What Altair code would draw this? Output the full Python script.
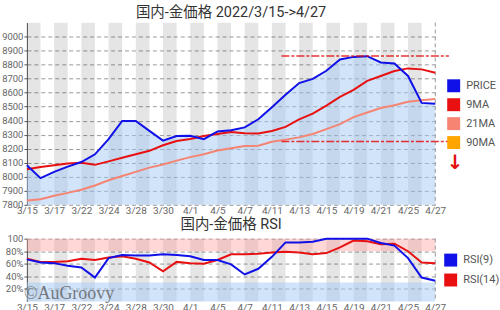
import altair as alt
import pandas as pd

# ---------------- data ----------------
dates = ["3/15", "3/16", "3/17", "3/18", "3/22", "3/23", "3/24", "3/25", "3/28", "3/29",
         "3/30", "3/31", "4/1", "4/4", "4/5", "4/6", "4/7", "4/8", "4/11", "4/12",
         "4/13", "4/14", "4/15", "4/18", "4/19", "4/20", "4/21", "4/22", "4/25", "4/26", "4/27"]

price = [8082, 7990, 8035, 8072, 8105, 8160, 8268, 8398, 8398, 8327,
         8258, 8290, 8292, 8268, 8323, 8332, 8352, 8410, 8496, 8585,
         8668, 8698, 8756, 8836, 8855, 8860, 8815, 8808, 8719, 8527, 8520]

ma9 = [8053, 8070, 8082, 8095, 8100, 8085, 8110, 8135, 8160, 8185,
       8225, 8255, 8270, 8290, 8305, 8320, 8310, 8308, 8327, 8356,
       8410, 8450, 8508, 8569, 8620, 8684, 8719, 8754, 8773, 8766, 8742]

ma21 = [7831, 7840, 7865, 7885, 7908, 7938, 7975, 8005, 8035, 8065,
        8088, 8115, 8140, 8160, 8187, 8203, 8220, 8222, 8250, 8265,
        8281, 8305, 8340, 8375, 8425, 8458, 8490, 8510, 8535, 8545, 8555]

rsi9 = [67, 62, 61, 57, 54, 38, 69, 74, 73, 73,
        75, 74, 72, 66, 66, 59, 43, 52, 71, 94,
        94, 95, 100, 100, 100, 100, 93, 89, 69, 38, 33]

rsi14 = [68, 63, 63, 64, 68, 66, 70, 72, 68, 62,
         48, 63, 61, 60, 66, 75, 75, 76, 78, 79,
         78, 75, 77, 86, 97, 96, 91, 92, 80, 62, 61]

series_names = ["PRICE", "9MA", "21MA", "90MA"]
series_colors = ["#1010e8", "#e81010", "#f58473", "#ffa500"]
rsi_names = ["RSI(9)", "RSI(14)"]
rsi_colors = ["#1010e8", "#e81010"]

level_high = 8862
level_low = 8252
level_from = 18.7
level_to = 31

title_top = "国内-金価格 2022/3/15->4/27"
title_rsi = "国内-金価格 RSI"
watermark = "©AuGroovy"

# ---------------- tables ----------------
n = len(dates)
df = pd.DataFrame({"day": list(range(n)), "date": dates,
                   "PRICE": price, "9MA": ma9, "21MA": ma21,
                   "RSI(9)": rsi9, "RSI(14)": rsi14})
bands_df = pd.DataFrame({"s": list(range(0, n, 2))})
bands_df["e"] = bands_df["s"] + 1
edge_df = pd.DataFrame({"d": [n - 1]})
lvl_df = pd.DataFrame({"v": [level_high, level_low], "s": [level_from] * 2, "e": [level_to] * 2})
leg_df = pd.DataFrame({"series": series_names})
rleg_df = pd.DataFrame({"rsi": rsi_names})

W, H1, H2 = 410, 183, 63
LBL = "Roboto"
TITLE_FONT = "Roboto, 'Noto Sans CJK JP', sans-serif"
label_expr = "[" + ",".join("'%s'" % d for d in dates) + "][datum.value]"

xs = alt.Scale(domain=[0, n - 1], nice=False, zero=False)
x_axis = alt.Axis(values=list(range(0, n, 2)), labelExpr=label_expr, title=None,
                  domain=False, ticks=False, grid=False, labelFlush=False,
                  labelOverlap=False, labelFont=LBL, labelFontSize=10,
                  labelColor="#666", labelPadding=1)


def X(field):
    return alt.X(field, scale=xs, axis=x_axis)


def square_legend(lx, ly, rp):
    return alt.Legend(title=None, orient="none", legendX=lx, legendY=ly,
                      symbolType="square", symbolSize=169, symbolStrokeWidth=0,
                      symbolOpacity=1, labelFont=LBL, labelFontSize=11,
                      labelColor="#555", rowPadding=rp, labelOffset=6)


# ---------------- top chart ----------------
ys = alt.Scale(domain=[7800, 9100], nice=False, zero=False)
y_axis = alt.Axis(values=list(range(7800, 9001, 100)), format="d", title=None, grid=True,
                  gridDash=[4, 3], gridColor="#9a9a9a", gridWidth=1,
                  domainColor="#555", tickColor="#555", tickSize=3,
                  labelFont=LBL, labelFontSize=9.5, labelColor="#666", labelPadding=1)
cs = alt.Scale(domain=series_names, range=series_colors)

legend_top = alt.Chart(leg_df).mark_square(filled=True, clip=True, size=169, opacity=1).encode(
    x=alt.value(-200), y=alt.value(-200),
    color=alt.Color("series:N", scale=cs, legend=square_legend(422, 57, 6)))
bands = alt.Chart(bands_df).mark_rect(color="#000", opacity=0.1, clip=True).encode(
    x=X("s:Q"), x2="e:Q")
area = alt.Chart(df).mark_area(color="#a5c9f5", opacity=0.5).encode(
    x=X("day:Q"), y=alt.Y("PRICE:Q", scale=ys, axis=y_axis), y2=alt.datum(7800))
lines = alt.Chart(df).transform_fold(["21MA", "9MA", "PRICE"], as_=["series", "val"]).mark_line(
    strokeWidth=2).encode(
    x=X("day:Q"), y=alt.Y("val:Q", scale=ys, axis=y_axis),
    color=alt.Color("series:N", scale=cs),
    detail="series:N")
edge = alt.Chart(edge_df).mark_rule(color="#999", strokeDash=[4, 3]).encode(x=X("d:Q"))
levels = alt.Chart(lvl_df).mark_rule(color="#e41010", strokeDash=[8, 2, 3, 2],
                                     strokeWidth=1.5, opacity=0.85, clip=False).encode(
    x=X("s:Q"), x2="e:Q", y=alt.Y("v:Q", scale=ys, axis=y_axis))
arrow = alt.Chart(pd.DataFrame({"t": ["↓"]})).mark_text(
    color="#e41010", font="DejaVu Sans", fontSize=20, fontWeight="bold", clip=False).encode(
    x=alt.value(430), y=alt.value(141), text="t:N")

top = alt.layer(legend_top, bands, area, edge, lines, levels, arrow).properties(
    width=W, height=H1,
    title=alt.TitleParams(title_top, font=TITLE_FONT, fontSize=14.5,
                          fontWeight="normal", color="#333", offset=2, anchor="middle"))

# ---------------- RSI chart ----------------
rs = alt.Scale(domain=[0, 100], nice=False, zero=False)
r_axis = alt.Axis(values=[20, 40, 60, 80, 100], title=None, grid=True,
                  labelExpr="datum.value == 100 ? '100' : datum.value + '%'",
                  gridDash=[4, 3], gridColor="#9a9a9a", gridWidth=1,
                  domainColor="#555", tickColor="#555", tickSize=3,
                  labelFont=LBL, labelFontSize=9.5, labelColor="#666", labelPadding=1)
rcs = alt.Scale(domain=rsi_names, range=rsi_colors)

legend_rsi = alt.Chart(rleg_df).mark_square(filled=True, clip=True, size=169, opacity=1).encode(
    x=alt.value(-200), y=alt.value(-200),
    color=alt.Color("rsi:N", scale=rcs, legend=square_legend(419, 15, 7)))
hot = alt.Chart(pd.DataFrame({"a": [80], "b": [100]})).mark_rect(
    color="#ff9a9a", opacity=0.4).encode(y=alt.Y("a:Q", scale=rs, axis=r_axis), y2="b:Q")
cold = alt.Chart(pd.DataFrame({"a": [0], "b": [30]})).mark_rect(
    color="#a5c9f5", opacity=0.5).encode(y=alt.Y("a:Q", scale=rs, axis=r_axis), y2="b:Q")
rlines = alt.Chart(df).transform_fold(["RSI(14)", "RSI(9)"], as_=["rsi", "val"]).mark_line(
    strokeWidth=2).encode(
    x=X("day:Q"), y=alt.Y("val:Q", scale=rs, axis=r_axis),
    color=alt.Color("rsi:N", scale=rcs), detail="rsi:N")
wm = alt.Chart(pd.DataFrame({"t": [watermark]})).mark_text(
    font="Liberation Serif", fontSize=18, color="#555", opacity=0.75,
    align="left", baseline="alphabetic", clip=False).encode(
    x=alt.value(-3), y=alt.value(61), text="t:N")

bottom = alt.layer(legend_rsi, bands, hot, cold, edge, rlines, wm).properties(
    width=W, height=H2,
    title=alt.TitleParams(title_rsi, font=TITLE_FONT, fontSize=14.5,
                          fontWeight="normal", color="#333", offset=1, anchor="middle"))

chart = alt.vconcat(top, bottom, spacing=1).resolve_scale(
    color="independent").resolve_legend(color="independent").properties(
    padding={"left": 1, "top": 4, "right": 0, "bottom": 0},
    background="white").configure_view(strokeWidth=0)

chart.save("out.html", embed_options={"renderer": "svg", "actions": False})
